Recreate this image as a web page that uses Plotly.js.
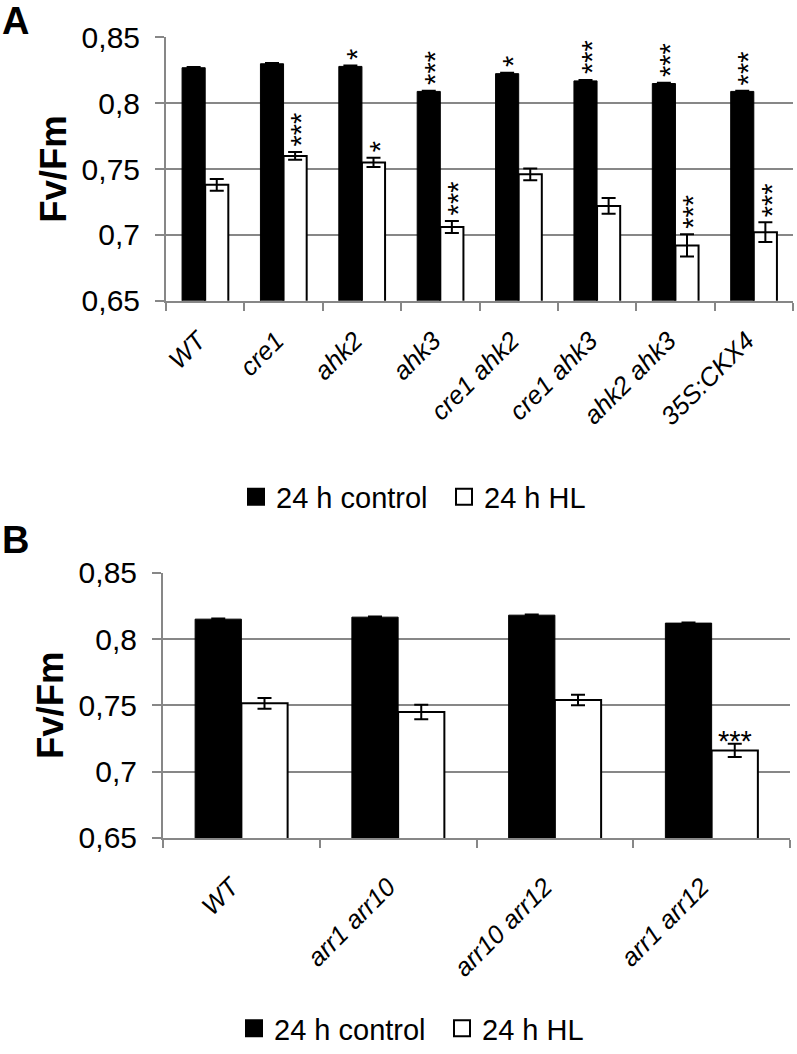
<!DOCTYPE html>
<html><head><meta charset="utf-8">
<script src="https://cdn.plot.ly/plotly-3.0.1.min.js"></script>
<style>html,body{margin:0;padding:0;background:#fff}#chart{width:797px;height:1054px}#flush{position:absolute;left:0;top:430px;width:797px;font:13px monospace;color:transparent;white-space:pre-wrap;pointer-events:none}</style>
</head><body><div id="chart"></div><div id="flush"></div>
<script>
// ---- Panel A data ----
const catsA = ['WT','cre1','ahk2','ahk3','cre1 ahk2','cre1 ahk3','ahk2 ahk3','35S:CKX4'];
const ctrlA = [0.827, 0.830, 0.828, 0.809, 0.8225, 0.817, 0.815, 0.809];
const ctrlAErr = [0.0006, 0.0006, 0.0006, 0.0006, 0.0006, 0.0006, 0.0006, 0.0006];
const hlA = [0.738, 0.760, 0.755, 0.706, 0.746, 0.722, 0.692, 0.702];
const hlAErr = [0.0045, 0.003, 0.0035, 0.0045, 0.0045, 0.006, 0.0085, 0.0075];
const sigCtrlA = ['', '', '*', '***', '*', '***', '***', '***'];
const sigHlA = ['', '***', '*', '***', '', '', '***', '***'];
// ---- Panel B data ----
const catsB = ['WT','arr1 arr10','arr10 arr12','arr1 arr12'];
const ctrlB = [0.815, 0.8165, 0.818, 0.812];
const ctrlBErr = [0.0005, 0.0005, 0.0005, 0.0005];
const hlB = [0.7515, 0.745, 0.754, 0.716];
const hlBErr = [0.004, 0.0055, 0.004, 0.005];
const sigHlB = ['', '', '', '***'];
// ---- axis ticks ----
const yTickVals = [0.65, 0.7, 0.75, 0.8, 0.85];
const yTickText = ['0,65', '0,7', '0,75', '0,8', '0,85'];
const seriesNames = ['24 h control', '24 h HL'];

const FONT = 'Liberation Sans, Arial, sans-serif';
const GRAY = '#878787';
const BARGAP = 0.41;
const OFF = (1 - BARGAP) / 4;

function barTrace(x, y, err, name, isCtrl, xa, ya) {
  return {
    type: 'bar', x: x, y: y, name: name, xaxis: xa, yaxis: ya, showlegend: false,
    marker: {color: isCtrl ? '#000' : '#fff', line: {color: '#000', width: isCtrl ? 1 : 2}},
    error_y: {type: 'data', array: err, visible: true, color: '#000', thickness: 2, width: 7}
  };
}
function legendTrace(name, isCtrl, xa, ya, leg) {
  return {
    type: 'scatter', mode: 'markers', x: [null], y: [null], name: name, xaxis: xa, yaxis: ya, legend: leg,
    marker: {symbol: 'square', size: 16, color: isCtrl ? '#000' : '#fff', line: {color: '#000', width: 2}}
  };
}

const data = [
  barTrace(catsA, ctrlA, ctrlAErr, seriesNames[0], true, 'x', 'y'),
  barTrace(catsA, hlA, hlAErr, seriesNames[1], false, 'x', 'y'),
  barTrace(catsB, ctrlB, ctrlBErr, seriesNames[0], true, 'x2', 'y2'),
  barTrace(catsB, hlB, hlBErr, seriesNames[1], false, 'x2', 'y2'),
  legendTrace(seriesNames[0], true, 'x', 'y', 'legend'),
  legendTrace(seriesNames[1], false, 'x', 'y', 'legend'),
  legendTrace(seriesNames[0], true, 'x2', 'y2', 'legend2'),
  legendTrace(seriesNames[1], false, 'x2', 'y2', 'legend2')
];

const annotations = [];
function addSigVertical(sig, vals, errs, off, xref, yref) {
  sig.forEach((s, i) => {
    if (!s) return;
    annotations.push({xref: xref, yref: yref, x: i + off, y: vals[i] + errs[i],
      text: s, showarrow: false, textangle: -90, xanchor: 'center', yanchor: 'bottom',
      yshift: 3.5, xshift: 6, font: {family: FONT, size: 29, color: '#000'}});
  });
}
addSigVertical(sigCtrlA, ctrlA, ctrlAErr, -OFF, 'x', 'y');
addSigVertical(sigHlA, hlA, hlAErr, OFF, 'x', 'y');
sigHlB.forEach((s, i) => {
  if (!s) return;
  annotations.push({xref: 'x2', yref: 'y2', x: i + OFF, y: hlB[i] + hlBErr[i],
    text: s, showarrow: false, xanchor: 'center', yanchor: 'bottom', yshift: -15,
    font: {family: FONT, size: 29, color: '#000'}});
});
annotations.push({xref: 'paper', yref: 'paper', x: 0, y: 1, yshift: 2, xanchor: 'left', yanchor: 'top',
  text: '<b>A</b>', showarrow: false, font: {family: FONT, size: 38, color: '#000'}});
annotations.push({xref: 'paper', yref: 'paper', x: 0, y: 1 - 530/1054, yshift: 5, xanchor: 'left', yanchor: 'top',
  text: '<b>B</b>', showarrow: false, font: {family: FONT, size: 38, color: '#000'}});

function xAxis(domain, anchor, standoff, shift) {
  return {domain: domain, anchor: anchor, type: 'category', showline: true, linecolor: GRAY, linewidth: 2,
    ticks: 'outside', tickson: 'boundaries', ticklen: 8, tickwidth: 2, tickcolor: GRAY,
    tickangle: -45, ticklabelstandoff: standoff, ticklabelshift: shift,
    tickfont: {family: FONT, size: 25.5, color: '#000', style: 'italic'},
    showgrid: false, zeroline: false, fixedrange: true};
}
function yAxis(domain, anchor) {
  return {domain: domain, anchor: anchor, range: [0.65, 0.85], tickvals: yTickVals, ticktext: yTickText,
    showline: true, linecolor: GRAY, linewidth: 2, ticks: 'outside', ticklen: 9, tickwidth: 2, tickcolor: GRAY,
    ticklabelstandoff: 9,
    showgrid: true, gridcolor: GRAY, gridwidth: 2, zeroline: false,
    tickfont: {family: FONT, size: 30, color: '#000'},
    title: {text: '<b>Fv/Fm</b>', font: {family: FONT, size: 36.5, color: '#000'}, standoff: 4}, fixedrange: true};
}

const H = 1054, W = 797;
const layout = {
  width: W, height: H, margin: {l: 0, r: 0, t: 0, b: 0}, paper_bgcolor: '#fff', plot_bgcolor: '#fff',
  barmode: 'group', bargap: BARGAP, bargroupgap: 0,
  font: {family: FONT, color: '#000'},
  xaxis: xAxis([166/W, 793/W], 'y', 13, -7),
  yaxis: yAxis([1 - 305/H, 1 - 38/H], 'x'),
  xaxis2: xAxis([163/W, 790/W], 'y2', 22, -10),
  yaxis2: yAxis([1 - 850/H, 1 - 581/H], 'x2'),
  legend: {orientation: 'h', x: 236/W, xanchor: 'left', y: 1 - 504/H, yanchor: 'middle',
    font: {family: FONT, size: 29, color: '#000'}, entrywidth: 163, bgcolor: 'rgba(0,0,0,0)'},
  legend2: {orientation: 'h', x: 234/W, xanchor: 'left', y: 1 - 1043.5/H, yanchor: 'middle',
    font: {family: FONT, size: 29, color: '#000'}, entrywidth: 163, bgcolor: 'rgba(0,0,0,0)'},
  annotations: annotations,
  showlegend: true
};

Plotly.newPlot('chart', data, layout, {staticPlot: true, displayModeBar: false}).then(function (gd) {
  return Plotly.relayout(gd, {'xaxis.tickangle': -45, 'xaxis2.tickangle': -45});
}).then(function (gd) {
  const parts = [];
  document.querySelectorAll('.xtick text, .x2tick text').forEach(function (t) {
    const b = t.getBoundingClientRect();
    parts.push(t.getAttribute('transform') + ' ' + Math.round(b.width) + 'x' + Math.round(b.height));
  });
  document.getElementById('flush').textContent = parts.join('\n');
});
</script></body></html>
